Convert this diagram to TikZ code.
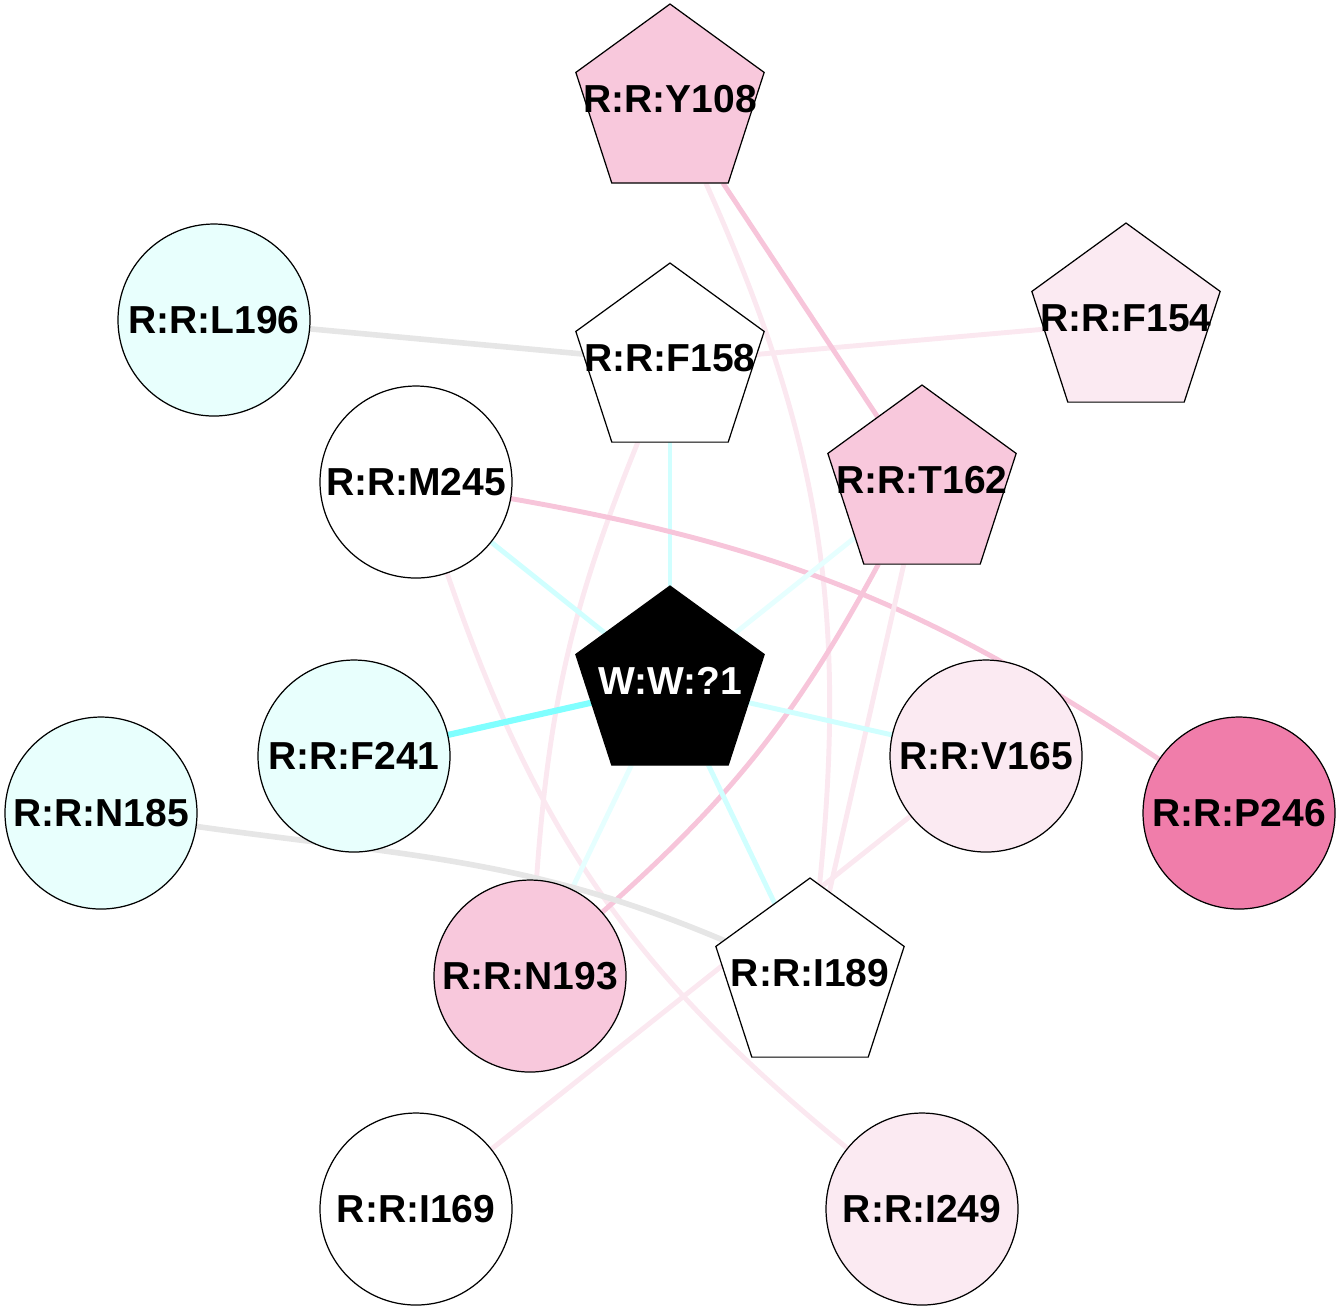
\documentclass[tikz,border=0pt]{standalone}
\usepackage{fontspec}
\setmainfont{Liberation Sans}
\usepackage{xcolor}
\usetikzlibrary{
	shapes.geometric,
	backgrounds,
}

\definecolor{resPink}{HTML}{F8C8DC}
\definecolor{resPinkLight}{HTML}{FBEAF2}
\definecolor{resPinkDark}{HTML}{F07DAA}
\definecolor{resCyan}{HTML}{E8FFFD}
\definecolor{edgeGray}{HTML}{E6E6E6}
\definecolor{edgePink}{HTML}{F7C5DA}
\definecolor{edgePinkLight}{HTML}{FBE8F0}
\definecolor{edgeCyanStrong}{HTML}{80FFFF}
\definecolor{edgeCyan}{HTML}{D0FFFF}
\definecolor{edgeCyanLight}{HTML}{E6FFFF}

\begin{document}
\begin{tikzpicture}[
	resfont/.style={font=\fontsize{11.1}{13}\selectfont\bfseries},
	rescircle/.style={circle, draw=black, line width=0.35pt, minimum size=1.92cm,
		inner sep=0pt, outer sep=0pt, resfont},
	respent/.style={regular polygon, regular polygon sides=5, draw=black,
		line width=0.35pt, minimum size=1.98cm, inner sep=0pt, outer sep=0pt},
	reslabel/.style={resfont, inner sep=0pt, yshift=0.04cm},
	egray/.style={draw=edgeGray, line width=1.6pt},
	epink/.style={draw=edgePink, line width=1.4pt},
	epinklt/.style={draw=edgePinkLight, line width=1.4pt},
	ecyanst/.style={draw=edgeCyanStrong, line width=1.75pt},
	ecyan/.style={draw=edgeCyan, line width=1.4pt},
	ecyanlt/.style={draw=edgeCyanLight, line width=1.4pt},
]
	\useasboundingbox (0,0) rectangle (13.4,-13.12);

	\node[respent, fill=resPink] (Y108) at (6.70,-1.03) [label={[reslabel]center:{R:R:Y108}}] {};
	\node[respent, fill=white] (F158) at (6.70,-3.62) [label={[reslabel]center:{R:R:F158}}] {};
	\node[respent, fill=resPinkLight] (F154) at (11.26,-3.22) [label={[reslabel]center:{R:R:F154}}] {};
	\node[respent, fill=resPink] (T162) at (9.22,-4.84) [label={[reslabel]center:{R:R:T162}}] {};
	\node[respent, fill=black] (W1) at (6.70,-6.85) [label={[reslabel, text=white]center:{W:W:?1}}] {};
	\node[respent, fill=white] (I189) at (8.10,-9.77) [label={[reslabel]center:{R:R:I189}}] {};

	\node[rescircle, fill=resCyan] (L196) at (2.14,-3.20) {R:R:L196};
	\node[rescircle, fill=white] (M245) at (4.16,-4.82) {R:R:M245};
	\node[rescircle, fill=resCyan] (F241) at (3.54,-7.56) {R:R:F241};
	\node[rescircle, fill=resCyan] (N185) at (1.01,-8.13) {R:R:N185};
	\node[rescircle, fill=resPinkLight] (V165) at (9.86,-7.56) {R:R:V165};
	\node[rescircle, fill=resPinkDark] (P246) at (12.39,-8.13) {R:R:P246};
	\node[rescircle, fill=resPink] (N193) at (5.30,-9.76) {R:R:N193};
	\node[rescircle, fill=white] (I169) at (4.16,-12.09) {R:R:I169};
	\node[rescircle, fill=resPinkLight] (I249) at (9.22,-12.09) {R:R:I249};

	\begin{scope}[on background layer]
		\draw[egray] (L196) -- (F158);
		\draw[epinklt] (F158) -- (F154);
		\draw[epink] (Y108) -- (T162);
		\draw[epinklt] (Y108) to[bend left=15] (I189);
		\draw[ecyan] (F158) -- (W1);
		\draw[epinklt] (F158) to[bend right=9] (N193);
		\draw[ecyan] (M245) -- (W1);
		\draw[epink] (M245) to[bend left=12] (P246);
		\draw[epinklt] (M245) to[bend right=16] (I249);
		\draw[ecyanlt] (T162) -- (W1);
		\draw[epink] (T162) to[bend left=10] (N193);
		\draw[epinklt] (T162) -- (I189);
		\draw[ecyanst] (W1) -- (F241);
		\draw[ecyan] (W1) -- (V165);
		\draw[ecyanlt] (W1) -- (N193);
		\draw[ecyan] (W1) -- (I189);
		\draw[egray] (N185) to[out=-8, in=157] (I189);
		\draw[epinklt] (V165) -- (I169);
	\end{scope}
\end{tikzpicture}
\end{document}
